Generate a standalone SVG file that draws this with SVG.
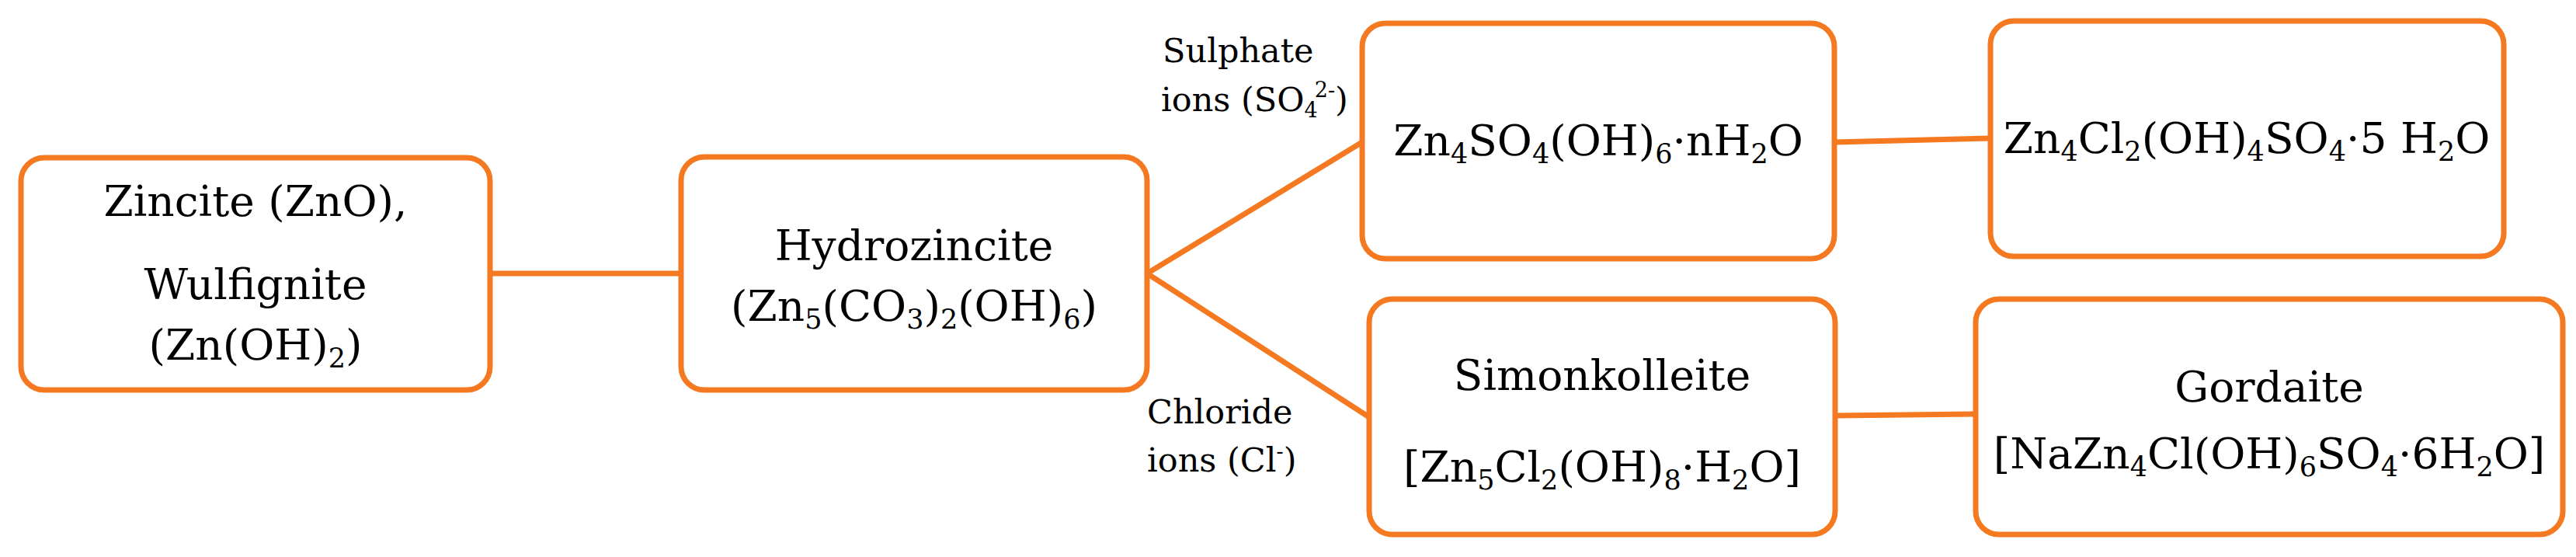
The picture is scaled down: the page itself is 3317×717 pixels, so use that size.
<svg xmlns="http://www.w3.org/2000/svg" width="3317" height="717" viewBox="0 0 3317 717">
<style>
.box{fill:#fff;stroke:#F47920;stroke-width:7}
#connectors line,#connectors path{stroke:#F47920;stroke-width:7;fill:none;stroke-linecap:round;stroke-linejoin:miter}
text{font-family:"DejaVu Serif","Liberation Serif",serif;fill:#000}
.t{font-size:55px;text-anchor:middle}
.lbl{font-size:43px}
.s{font-size:35px}
.ls{font-size:27px}
</style>
<rect width="3317" height="717" fill="#fff"/>
<g id="connectors">
<line x1="631" y1="352" x2="877" y2="352"/>
<path d="M1754 183 L1477 352 L1763 537"/>
<line x1="2362" y1="183" x2="2563" y2="178"/>
<line x1="2363" y1="535" x2="2544" y2="533"/>
</g>
<g id="edge-labels">
<text class="lbl" x="1497" y="80">Sulphate</text>
<text class="lbl" x="1495" y="143">ions (SO<tspan class="ls" dy="8">4</tspan><tspan class="ls" dx="-4" dy="-26">2-</tspan><tspan dy="18">)</tspan></text>
<text class="lbl" x="1477" y="545">Chloride</text>
<text class="lbl" x="1477" y="607">ions (Cl<tspan class="ls" dy="-17">-</tspan><tspan dy="17">)</tspan></text>
</g>
<g id="n1">
<rect class="box" x="27" y="203" width="604" height="299" rx="30"/>
<text class="t" x="329" y="278">Zincite (ZnO),</text>
<text class="t" x="329" y="385">Wulfignite</text>
<text class="t" x="329" y="463">(Zn(OH)<tspan class="s" dy="10">2</tspan><tspan dy="-10">)</tspan></text>
</g>
<g id="n2">
<rect class="box" x="877" y="202" width="600" height="300" rx="30"/>
<text class="t" x="1177" y="335">Hydrozincite</text>
<text class="t" x="1177" y="413">(Zn<tspan class="s" dy="10">5</tspan><tspan dy="-10">(CO</tspan><tspan class="s" dy="10">3</tspan><tspan dy="-10">)</tspan><tspan class="s" dy="10">2</tspan><tspan dy="-10">(OH)</tspan><tspan class="s" dy="10">6</tspan><tspan dy="-10">)</tspan></text>
</g>
<g id="n3">
<rect class="box" x="1754" y="30" width="608" height="303" rx="30"/>
<text class="t" x="2058" y="200">Zn<tspan class="s" dy="10">4</tspan><tspan dy="-10">SO</tspan><tspan class="s" dy="10">4</tspan><tspan dy="-10">(OH)</tspan><tspan class="s" dy="10">6</tspan><tspan dy="-10">·nH</tspan><tspan class="s" dy="10">2</tspan><tspan dy="-10">O</tspan></text>
</g>
<g id="n4">
<rect class="box" x="2563" y="27" width="661" height="303" rx="30"/>
<text class="t" x="2893" y="197">Zn<tspan class="s" dy="10">4</tspan><tspan dy="-10">Cl</tspan><tspan class="s" dy="10">2</tspan><tspan dy="-10">(OH)</tspan><tspan class="s" dy="10">4</tspan><tspan dy="-10">SO</tspan><tspan class="s" dy="10">4</tspan><tspan dy="-10">·5 H</tspan><tspan class="s" dy="10">2</tspan><tspan dy="-10">O</tspan></text>
</g>
<g id="n5">
<rect class="box" x="1763" y="385" width="600" height="303" rx="30"/>
<text class="t" x="2063" y="502">Simonkolleite</text>
<text class="t" x="2063" y="620">[Zn<tspan class="s" dy="10">5</tspan><tspan dy="-10">Cl</tspan><tspan class="s" dy="10">2</tspan><tspan dy="-10">(OH)</tspan><tspan class="s" dy="10">8</tspan><tspan dy="-10">·H</tspan><tspan class="s" dy="10">2</tspan><tspan dy="-10">O]</tspan></text>
</g>
<g id="n6">
<rect class="box" x="2544" y="385" width="756" height="303" rx="30"/>
<text class="t" x="2922" y="517">Gordaite</text>
<text class="t" x="2922" y="603">[NaZn<tspan class="s" dy="10">4</tspan><tspan dy="-10">Cl(OH)</tspan><tspan class="s" dy="10">6</tspan><tspan dy="-10">SO</tspan><tspan class="s" dy="10">4</tspan><tspan dy="-10">·6H</tspan><tspan class="s" dy="10">2</tspan><tspan dy="-10">O]</tspan></text>
</g>
</svg>
